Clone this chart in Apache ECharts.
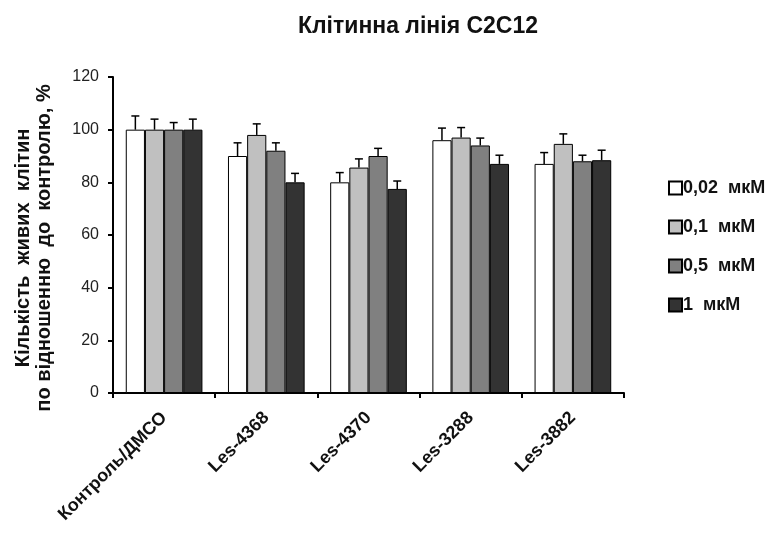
<!DOCTYPE html>
<html>
<head>
<meta charset="utf-8">
<script src="https://cdn.jsdelivr.net/npm/echarts@6/dist/echarts.min.js"></script>
<style>
  html, body { margin: 0; padding: 0; background: #fff; }
  #chart { width: 780px; height: 534px; }
</style>
</head>
<body>
<div id="chart"></div>
<script>
const categories = ['Контроль/ДМСО', 'Les-4368', 'Les-4370', 'Les-3288', 'Les-3882'];
const seriesNames = ['0,02  мкМ', '0,1  мкМ', '0,5  мкМ', '1  мкМ'];
const colors = ['#ffffff', '#c0c0c0', '#808080', '#333333'];

// mean values per concentration
const v002 = [100, 90, 80, 96, 87];
const v01 = [100, 98, 85.6, 97, 94.6];
const v05 = [100, 92, 90, 94, 88];
const v1 = [100, 80, 77.5, 87, 88.4];

// upper error
const e002 = [5.2, 5, 3.7, 4.6, 4.3];
const e01 = [4, 4.2, 3.3, 3.8, 3.8];
const e05 = [2.7, 3, 2.9, 2.8, 2.3];
const e1 = [4, 3.4, 3, 3.3, 3.8];

const values = [v002, v01, v05, v1];
const errors = [e002, e01, e05, e1];

const chart = echarts.init(document.getElementById('chart'));

const barSeries = seriesNames.map((name, i) => ({
  name: name,
  type: 'bar',
  data: values[i],
  barGap: '0%',
  barCategoryGap: '25%',
  itemStyle: { color: colors[i], borderColor: '#000', borderWidth: 1 },
  z: 2
}));

const errSeries = seriesNames.map((name, i) => ({
  type: 'custom',
  name: name + '_err',
  z: 3,
  data: values[i].map((v, k) => [k, v, v + errors[i][k]]),
  renderItem: function (params, api) {
    const k = api.value(0);
    const lo = api.coord([k, api.value(1)]);
    const hi = api.coord([k, api.value(2)]);
    const band = api.size([1, 0])[0];
    const barW = band * 0.75 / 4;
    const x = lo[0] - band * 0.75 / 2 + barW * (i + 0.5);
    const cap = 4;
    const style = { stroke: '#000', lineWidth: 1.5 };
    return {
      type: 'group',
      children: [
        { type: 'line', shape: { x1: x, y1: lo[1], x2: x, y2: hi[1] }, style: style },
        { type: 'line', shape: { x1: x - cap, y1: hi[1], x2: x + cap, y2: hi[1] }, style: style }
      ]
    };
  }
}));

chart.setOption({
  backgroundColor: '#fff',
  animation: false,
  textStyle: { fontFamily: 'Liberation Sans, Arial, sans-serif' },
  title: {
    text: 'Клітинна лінія C2C12',
    left: 413,
    top: 10,
    textAlign: 'center',
    textStyle: { fontSize: 23, fontWeight: 'bold', color: '#111' }
  },
  legend: {
    data: seriesNames,
    orient: 'vertical',
    left: 663,
    top: 174,
    itemWidth: 13,
    itemHeight: 13,
    itemGap: 21,
    icon: 'rect',
    textStyle: { fontSize: 18, fontWeight: 'bold', color: '#111', padding: [0, 0, 0, -4] }
  },
  grid: { left: 113, right: 156, top: 77, bottom: 141, containLabel: false },
  xAxis: {
    type: 'category',
    data: categories,
    axisLine: { lineStyle: { color: '#000', width: 2 } },
    axisTick: { show: true, length: 5, lineStyle: { color: '#000', width: 2 } },
    axisLabel: { rotate: 45, fontSize: 18, fontWeight: 'bold', color: '#111', margin: 22 }
  },
  yAxis: {
    type: 'value',
    min: 0,
    max: 120,
    interval: 20,
    name: 'Кількість  живих  клітин\nпо відношенню  до  контролю, %',
    nameLocation: 'middle',
    nameGap: 58,
    nameTextStyle: { fontSize: 20, fontWeight: 'bold', color: '#111', lineHeight: 21, padding: [0, 26, 0, 0] },
    splitLine: { show: false },
    axisLine: { show: true, lineStyle: { color: '#000', width: 2 } },
    axisTick: { show: true, length: 5, lineStyle: { color: '#000', width: 2 } },
    axisLabel: { fontSize: 16, color: '#222', margin: 14 }
  },
  series: barSeries.concat(errSeries)
});
</script>
</body>
</html>
